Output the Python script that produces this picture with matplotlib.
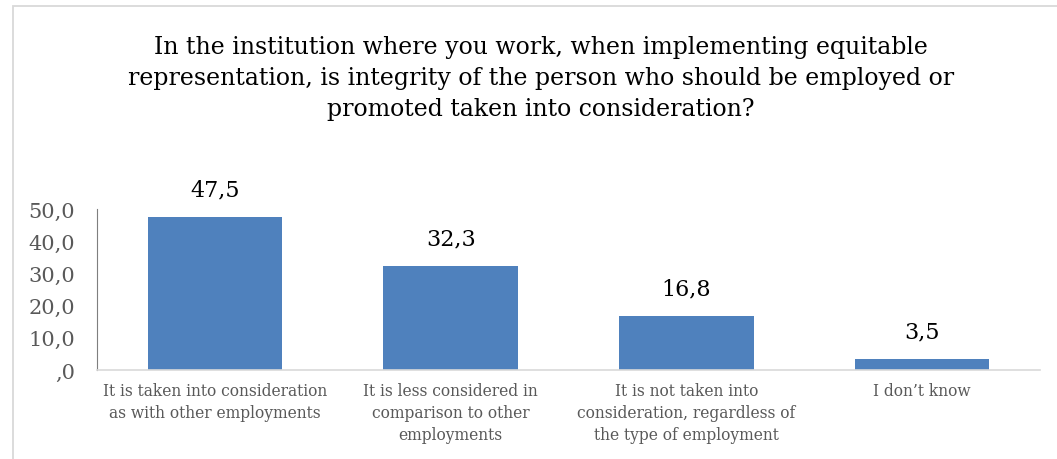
import matplotlib
matplotlib.use("Agg")
import matplotlib.pyplot as plt
from matplotlib.patches import Rectangle

# data
categories = [
    "It is taken into consideration\nas with other employments",
    "It is less considered in\ncomparison to other\nemployments",
    "It is not taken into\nconsideration, regardless of\nthe type of employment",
    "I don\u2019t know",
]
values = [47.5, 32.3, 16.8, 3.5]
yticks = [0, 10, 20, 30, 40, 50]

TITLE = ("In the institution where you work, when implementing equitable\n"
         "representation, is integrity of the person who should be employed or\n"
         "promoted taken into consideration?")

BAR_COLOR = "#4F81BD"
TICK_COLOR = "#595959"

plt.rcParams["font.family"] = ["DejaVu Serif"]

fig = plt.figure(figsize=(10.57, 4.6), dpi=100)

# light grey chart frame (top and left side show in the crop)
fig.patches.append(Rectangle((13 / 1057, -0.05), 1.1, 1.05 - 7 / 460,
                             transform=fig.transFigure, fill=False,
                             edgecolor="#D9D9D9", linewidth=1.3))

ax = fig.add_axes([97 / 1057, 1 - 371 / 460, 943 / 1057, 161 / 460])

x = range(len(categories))
bars = ax.bar(x, values, width=0.57, color=BAR_COLOR)

for b, v in zip(bars, values):
    ax.annotate(f"{v:.1f}".replace(".", ","),
                xy=(b.get_x() + b.get_width() / 2, b.get_height()),
                xytext=(0, 12), textcoords="offset points",
                ha="center", va="bottom", fontsize=16, color="black")

ax.set_xlim(-0.5, len(categories) - 0.5)
ax.set_ylim(0, 50)
ax.set_yticks(yticks)
ax.set_yticklabels([f"{t:.1f}".replace(".", ",").lstrip("0") or ",0" for t in yticks],
                   fontsize=15, color=TICK_COLOR)
ax.set_xticks(list(x))
ax.set_xticklabels(categories, fontsize=11.2, color=TICK_COLOR, linespacing=1.35)
ax.tick_params(axis="y", length=0, pad=16)
ax.tick_params(axis="x", length=0, pad=9)
for lbl in ax.get_xticklabels():
    lbl.set_verticalalignment("top")

for s in ["top", "right"]:
    ax.spines[s].set_visible(False)
ax.spines["left"].set_color("#7F7F7F")
ax.spines["bottom"].set_color("#D9D9D9")
ax.spines["bottom"].set_linewidth(1.2)

fig.text(0.512, 0.83, TITLE, ha="center", va="center", fontsize=17,
         linespacing=1.45, color="black")

fig.savefig("out.png", dpi=100)
